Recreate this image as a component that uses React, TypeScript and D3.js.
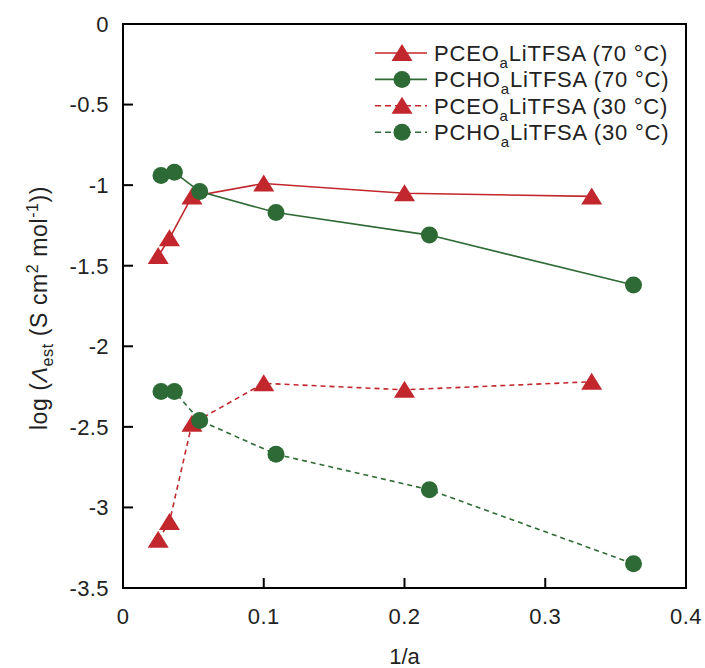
import React, { useRef, useEffect } from 'react';
import * as d3 from 'd3';

// 1/a values and log(Lambda_est)
const xCeo = [0.025, 0.033, 0.049, 0.1, 0.2, 0.333];
const ceo70 = [-1.44, -1.33, -1.07, -0.99, -1.05, -1.07];
const ceo30 = [-3.2, -3.09, -2.48, -2.23, -2.27, -2.22];

const xCho = [0.027, 0.0365, 0.0545, 0.1087, 0.2177, 0.3627];
const cho70 = [-0.94, -0.92, -1.04, -1.17, -1.31, -1.62];
const cho30 = [-2.28, -2.28, -2.46, -2.67, -2.89, -3.35];

const xTicks = [0, 0.1, 0.2, 0.3, 0.4];
const yTicks = [0, -0.5, -1, -1.5, -2, -2.5, -3, -3.5];

const RED = '#C1272D';
const GREEN = '#2D6A35';

const series = [
  { name: 'PCEO', temp: '70', xs: xCeo, ys: ceo70, color: RED, shape: 'tri', dash: null },
  { name: 'PCHO', temp: '70', xs: xCho, ys: cho70, color: GREEN, shape: 'circ', dash: null },
  { name: 'PCEO', temp: '30', xs: xCeo, ys: ceo30, color: RED, shape: 'tri', dash: '5,4' },
  { name: 'PCHO', temp: '30', xs: xCho, ys: cho30, color: GREEN, shape: 'circ', dash: '5,4' },
];

const trianglePath = 'M0,-9L10.5,8L-10.5,8Z';

const App = () => {
  const svgRef = useRef<SVGSVGElement | null>(null);
  const width = 705;
  const height = 668;

  useEffect(() => {
    const margin = { top: 24, right: 19, bottom: 80, left: 123 };
    const w = width - margin.left - margin.right;
    const h = height - margin.top - margin.bottom;

    const root = d3.select(svgRef.current);
    root.selectAll('*').remove();
    const svg = root.append('g').attr('transform', `translate(${margin.left},${margin.top})`);

    const x = d3.scaleLinear().domain([0, 0.4]).range([0, w]);
    const y = d3.scaleLinear().domain([-3.5, 0]).range([h, 0]);

    const font = 'Liberation Sans, Arial, sans-serif';

    // frame
    svg.append('rect')
      .attr('x', 0).attr('y', 0).attr('width', w).attr('height', h)
      .attr('fill', 'none').attr('stroke', '#000').attr('stroke-width', 2);

    // x ticks
    xTicks.forEach(t => {
      if (t > 0 && t < 0.4) {
        svg.append('line')
          .attr('x1', x(t)).attr('x2', x(t)).attr('y1', h).attr('y2', h - 10)
          .attr('stroke', '#000').attr('stroke-width', 2);
      }
      svg.append('text')
        .attr('x', x(t)).attr('y', h + 36)
        .attr('text-anchor', 'middle')
        .attr('font-family', font).attr('font-size', 22).attr('letter-spacing', 0.4).attr('fill', '#222')
        .text(String(t));
    });

    // y ticks
    yTicks.forEach(t => {
      if (t < 0 && t > -3.5) {
        svg.append('line')
          .attr('x1', 0).attr('x2', 10).attr('y1', y(t)).attr('y2', y(t))
          .attr('stroke', '#000').attr('stroke-width', 2);
      }
      svg.append('text')
        .attr('x', -14).attr('y', y(t)).attr('dy', '0.36em')
        .attr('text-anchor', 'end')
        .attr('font-family', font).attr('font-size', 22).attr('letter-spacing', 0.4).attr('fill', '#222')
        .text(String(t));
    });

    // axis titles
    svg.append('text')
      .attr('x', w / 2).attr('y', h + 76)
      .attr('text-anchor', 'middle')
      .attr('font-family', font).attr('font-size', 22).attr('fill', '#222')
      .text('1/a');

    const yl = svg.append('text')
      .attr('transform', `translate(-76,${h / 2 + 2}) rotate(-90)`)
      .attr('text-anchor', 'middle')
      .attr('font-family', font).attr('font-size', 23).attr('letter-spacing', 0.6).attr('fill', '#222');
    yl.append('tspan').text('log (');
    yl.append('tspan').attr('font-style', 'italic').text('Λ');
    yl.append('tspan').attr('font-size', 16).attr('dy', 6).text('est');
    yl.append('tspan').attr('dy', -6).text(' (S cm');
    yl.append('tspan').attr('font-size', 16).attr('dy', -9).text('2');
    yl.append('tspan').attr('dy', 9).text(' mol');
    yl.append('tspan').attr('font-size', 16).attr('dy', -9).text('-1');
    yl.append('tspan').attr('dy', 9).text('))');

    // series
    const line = d3.line<[number, number]>().x(d => x(d[0])).y(d => y(d[1]));

    series.forEach(s => {
      const pts: [number, number][] = s.xs.map((v, i) => [v, s.ys[i]]);
      svg.append('path')
        .attr('d', line(pts) as string)
        .attr('fill', 'none')
        .attr('stroke', s.color)
        .attr('stroke-width', 1.6)
        .attr('stroke-dasharray', s.dash ?? null);
      const g = svg.append('g');
      pts.forEach(p => {
        if (s.shape === 'tri') {
          g.append('path')
            .attr('d', trianglePath)
            .attr('transform', `translate(${x(p[0])},${y(p[1])})`)
            .attr('fill', s.color);
        } else {
          g.append('circle')
            .attr('cx', x(p[0])).attr('cy', y(p[1])).attr('r', 8.5)
            .attr('fill', s.color);
        }
      });
    });

    // legend
    const lg = svg.append('g').attr('transform', `translate(${375 - margin.left},${53 - margin.top})`);
    series.forEach((s, i) => {
      const row = lg.append('g').attr('transform', `translate(0,${i * 26.4})`);
      row.append('line')
        .attr('x1', 0).attr('x2', 52).attr('y1', 0).attr('y2', 0)
        .attr('stroke', s.color).attr('stroke-width', 1.6)
        .attr('stroke-dasharray', s.dash ? '6,4' : null);
      if (s.shape === 'tri') {
        row.append('path').attr('d', trianglePath).attr('transform', 'translate(27,0)').attr('fill', s.color);
      } else {
        row.append('circle').attr('cx', 27).attr('cy', 0).attr('r', 8.5).attr('fill', s.color);
      }
      const t = row.append('text')
        .attr('x', 59).attr('y', 0).attr('dy', '0.36em')
        .attr('font-family', font).attr('font-size', 22).attr('letter-spacing', 0.8).attr('fill', '#222');
      t.append('tspan').text(s.name);
      t.append('tspan').attr('font-size', 15).attr('dy', 7).text('a');
      t.append('tspan').attr('dy', -7).text(`LiTFSA (${s.temp} °C)`);
    });
  }, []);

  return (
    <svg
      ref={svgRef}
      width={width}
      height={height}
      style={{ position: 'absolute', left: 0, top: 0, background: '#fff' }}
    />
  );
};

export default App;
